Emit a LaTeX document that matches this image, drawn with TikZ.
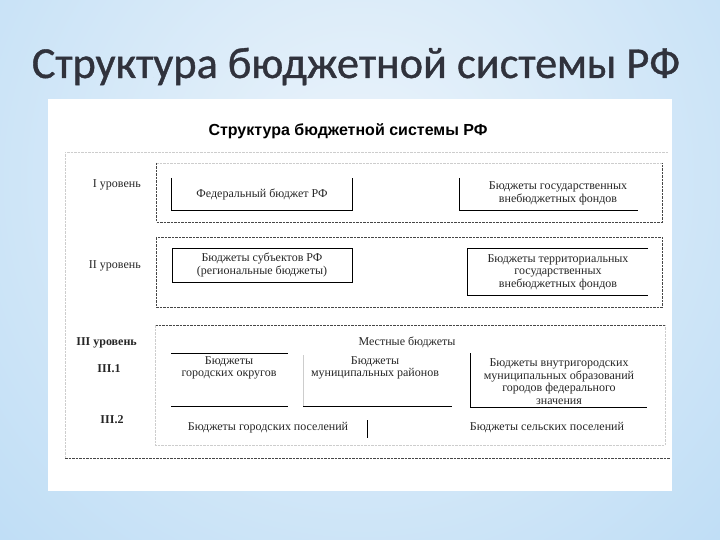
\documentclass[tikz,border=0pt]{standalone}
\usepackage{fontspec}
\setmainfont{Liberation Serif}
\newfontfamily\titlefont[FakeBold=0.8]{Carlito}
\newfontfamily\headfont{Liberation Sans}
\definecolor{bgin}{RGB}{236,244,251}
\definecolor{bgout}{RGB}{170,211,243}
\definecolor{titlecol}{RGB}{48,50,60}
\definecolor{faint}{RGB}{205,205,205}
\definecolor{dash}{RGB}{70,70,70}
\tikzset{
  txt/.style={align=center, inner sep=0pt, text=black!85, font=\fontsize{12}{12.5}\selectfont},
  lbl/.style={inner sep=0pt, text=black!85, font=\fontsize{12}{12.5}\selectfont},
  boxline/.style={draw=black, line width=0.8pt},
  dashline/.style={draw=dash, line width=0.6pt, dash pattern=on 2.5pt off 1pt},
  faintline/.style={draw=faint, line width=0.6pt, dash pattern=on 2.5pt off 1pt},
}
\begin{document}
\begin{tikzpicture}[x=1pt,y=-1pt]
\useasboundingbox (0,0) rectangle (720,540);
% background
\begin{scope}
\clip (0,0) rectangle (720,540);
\shade[inner color=bgin, outer color=bgout] (360-760,180-760) rectangle (360+760,180+760);
\end{scope}
% title
\node[anchor=base, inner sep=0pt, text=titlecol, font=\titlefont\fontsize{44.3}{48}\selectfont] (title) at (356,78) {Структура бюджетной системы РФ};
% white panel
\node[fill=white, draw=none, minimum width=624pt, minimum height=392pt, inner sep=0pt] (panel) at (360,295) {};
% header
\node[anchor=base, inner sep=0pt, text=black, font=\headfont\bfseries\fontsize{16}{18}\selectfont] (head) at (348,136) {Структура бюджетной системы РФ};
% outer frame
\draw[faintline] (65,458) -- (65,152) -- (668,152);
\draw[dashline] (65,458) -- (670,458);
% level I
\draw[faintline] (156,163) -- (662,163);
\draw[dashline] (156,163) -- (156,222) -- (662,222) -- (662,163);
% level II
\draw[dashline] (156,237) rectangle (662,307);
% level III
\draw[dashline] (155,325) -- (665,325);
\draw[faintline] (155,325) -- (155,445) -- (665,445) -- (665,325);

% level labels
\node[lbl, anchor=east] (l1) at (141,185) {I уровень};
\node[lbl, anchor=east] (l2) at (141,266) {II уровень};
\node[lbl, anchor=east, font=\bfseries\fontsize{12}{12.5}\selectfont] (l3) at (137,343) {III уровень};
\node[lbl, font=\bfseries\fontsize{12}{12.5}\selectfont] (l31) at (109,369) {III.1};
\node[lbl, font=\bfseries\fontsize{12}{12.5}\selectfont] (l32) at (112,420) {III.2};

% level I boxes
\node[txt, minimum width=180pt, minimum height=32pt] (fed) at (262,194) {Федеральный бюджет РФ};
\draw[boxline] (fed.north west) -- (fed.south west) -- (fed.south east) -- (fed.north east);
\node[txt] (gvf) at (558,193.5) {Бюджеты государственных\\внебюджетных фондов};
\coordinate (gvfA) at (459,178);
\coordinate (gvfB) at (459,210);
\coordinate (gvfC) at (638,210);
\draw[boxline] (gvfA) -- (gvfB) -- (gvfC);

% level II boxes
\node[txt, draw=black, line width=0.8pt, minimum width=180pt, minimum height=34pt] (subj) at (262,265) {Бюджеты субъектов РФ\\(региональные бюджеты)};
\node[txt, minimum width=180pt, minimum height=46pt] (tgvf) at (558,272) {Бюджеты территориальных\\государственных\\внебюджетных фондов};
\draw[boxline] (tgvf.north east) -- (tgvf.north west) -- (tgvf.south west) -- (tgvf.south east);

% level III
\node[txt] (mest) at (407,342) {Местные бюджеты};
\node[txt] (gok) at (229,368) {Бюджеты\\городских округов};
\coordinate (gokA) at (171,353);
\coordinate (gokB) at (288,353);
\coordinate (gokC) at (171,406);
\coordinate (gokD) at (288,406);
\draw[boxline] (gokA) -- (gokB);
\draw[boxline] (gokC) -- (gokD);
\node[txt] (mun) at (375,368) {Бюджеты\\муниципальных районов};
\coordinate (munA) at (303,355);
\coordinate (munB) at (303,406);
\coordinate (munC) at (452,406);
\draw[draw=faint, line width=0.6pt] (munA) -- (munB);
\draw[boxline] (munB) -- (munC);
\node[txt] (vng) at (559,381.5) {Бюджеты внутригородских\\муниципальных образований\\городов федерального\\значения};
\coordinate (vngA) at (470,353);
\coordinate (vngB) at (470,407);
\coordinate (vngC) at (647,407);
\draw[boxline] (vngA) -- (vngB) -- (vngC);
\node[txt] (gpos) at (268,428) {Бюджеты городских поселений};
\coordinate (barA) at (367,420);
\coordinate (barB) at (367,438);
\draw[boxline] (barA) -- (barB);
\node[txt] (spos) at (547,428) {Бюджеты сельских поселений};
\end{tikzpicture}
\end{document}
